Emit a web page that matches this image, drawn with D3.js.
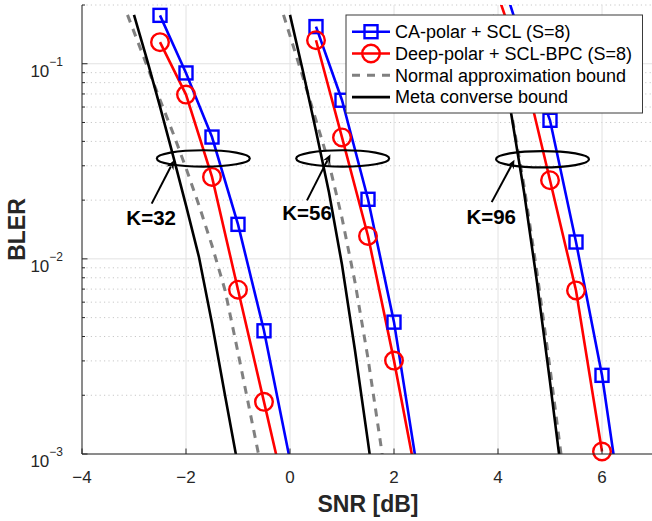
<!DOCTYPE html>
<html>
<head>
<meta charset="utf-8">
<script src="https://cdn.jsdelivr.net/npm/d3@7"></script>
<style>
  body { margin: 0; background: #fff; }
  svg { display: block; font-family: "Liberation Sans", Arial, sans-serif; }
</style>
</head>
<body>
<svg id="chart" width="652" height="521"></svg>
<script>
// ---- data ----
const xTicks = [-4, -2, 0, 2, 4, 6];
const yTicks = [1e-3, 1e-2, 1e-1];

// CA-polar + SCL (S=8), blue squares
const snrBlue32 = [-2.5, -2, -1.5, -1, -0.5, 0];
const blerBlue32 = [0.177, 0.0897, 0.0421, 0.01503, 0.00428, 0.00093];
const snrBlue56 = [0.5, 1, 1.5, 2, 2.5];
const blerBlue56 = [0.155, 0.065, 0.0202, 0.00474, 0.00068];
const snrBlue96 = [4, 4.5, 5, 5.5, 6, 6.5];
const blerBlue96 = [0.316, 0.120, 0.0513, 0.0122, 0.00253, 0.00031];

// Deep-polar + SCL-BPC (S=8), red circles
const snrRed32 = [-2.5, -2, -1.5, -1, -0.5, 0];
const blerRed32 = [0.129, 0.0695, 0.0263, 0.00695, 0.00185, 0.00049];
const snrRed56 = [0.5, 1, 1.5, 2, 2.5];
const blerRed56 = [0.132, 0.0419, 0.0131, 0.00301, 0.00060];
const snrRed96 = [4, 4.5, 5, 5.5, 6];
const blerRed96 = [0.224, 0.0918, 0.0253, 0.00689, 0.00103];

// Normal approximation bound, gray dashed
const snrNa32 = [-3.125, -2.75, -2.5, -2.25, -2, -1.75, -1.5, -1.25, -1, -0.75, -0.5];
const blerNa32 = [0.178, 0.0977, 0.0653, 0.0442, 0.0292, 0.0188, 0.0117, 0.00692, 0.00331, 0.00155, 0.000724];
const snrNa56 = [-0.125, 0.25, 0.5, 0.75, 1, 1.25, 1.5, 1.75, 2];
const blerNa56 = [0.178, 0.0851, 0.0513, 0.0309, 0.0162, 0.00759, 0.00309, 0.0011, 0.000355];
const snrNa96 = [3.9, 4, 4.25, 4.5, 4.75, 5, 5.25];
const blerNa96 = [0.174, 0.129, 0.0575, 0.0237, 0.00851, 0.00275, 0.000832];

// Meta converse bound, black
const snrMc32 = [-3, -2.75, -2.5, -2.25, -2, -1.75, -1.5, -1.25, -1];
const blerMc32 = [0.178, 0.105, 0.0603, 0.0339, 0.0188, 0.0102, 0.00468, 0.002, 0.00087];
const snrMc56 = [0, 0.25, 0.5, 0.75, 1, 1.25, 1.5, 1.75];
const blerMc56 = [0.178, 0.0912, 0.0452, 0.0219, 0.00933, 0.00339, 0.00115, 0.00038];
const snrMc96 = [3.9, 4, 4.25, 4.5, 4.75, 5, 5.25];
const blerMc96 = [0.178, 0.130, 0.0562, 0.0221, 0.00759, 0.00234, 0.00069];

const legendLabels = ["CA-polar + SCL (S=8)", "Deep-polar + SCL-BPC (S=8)",
    "Normal approximation bound", "Meta converse bound"];

// ellipse + arrow callouts, in data units
const callouts = [
    { label: "K=32", cx: -1.667, cy: 0.0327, tx: -2.67, ty: 0.01486, ax: -2.66, ay: 0.0192, bx: -2.23, by: 0.0320 },
    { label: "K=56", cx: 1.013, cy: 0.0327, tx: 0.327, ty: 0.01574, ax: 0.327, ay: 0.01995, bx: 0.779, by: 0.0344 },
    { label: "K=96", cx: 4.856, cy: 0.0324, tx: 3.87, ty: 0.01503, ax: 3.879, ay: 0.01954, bx: 4.317, by: 0.0322 }
];

const zip = (xs, ys) => xs.map((v, i) => ({ snr: v, bler: ys[i] }));

const series = [
    { name: legendLabels[0], color: "#0000ff", width: 2.6, marker: "square", parts: [zip(snrBlue32, blerBlue32), zip(snrBlue56, blerBlue56), zip(snrBlue96, blerBlue96)] },
    { name: legendLabels[1], color: "#ff0000", width: 2.6, marker: "circle", parts: [zip(snrRed32, blerRed32), zip(snrRed56, blerRed56), zip(snrRed96, blerRed96)] },
    { name: legendLabels[2], color: "#808080", width: 3, dash: "8,7", parts: [zip(snrNa32, blerNa32), zip(snrNa56, blerNa56), zip(snrNa96, blerNa96)] },
    { name: legendLabels[3], color: "#000000", width: 2.6, parts: [zip(snrMc32, blerMc32), zip(snrMc56, blerMc56), zip(snrMc96, blerMc96)] }
];

// ---- layout ----
const svg = d3.select("#chart");
const plotLeft = 82, plotRight = 654, plotTop = 5, plotBottom = 454;
const axisColor = "#262626";

const x = d3.scaleLinear().domain([-4, 7]).range([plotLeft, plotRight]);
const y = d3.scaleLog().domain([1e-3, 0.2]).range([plotBottom, plotTop]);

svg.append("defs").append("clipPath").attr("id", "plotClip")
    .append("rect")
    .attr("x", plotLeft).attr("y", plotTop)
    .attr("width", plotRight - plotLeft).attr("height", plotBottom - plotTop);

// minor horizontal grid (dotted)
const minorY = [];
[1e-3, 1e-2, 1e-1].forEach(dec => {
    for (let k = 2; k <= 9; k++) {
        const v = dec * k;
        if (v <= 0.2 + 1e-9) minorY.push(v);
    }
});

const grid = svg.append("g").attr("class", "grid");
grid.selectAll("line.minor")
    .data(minorY)
    .enter().append("line")
    .attr("class", "minor")
    .attr("x1", plotLeft).attr("x2", plotRight)
    .attr("y1", d => y(d)).attr("y2", d => y(d))
    .attr("stroke", "#c8c8c8")
    .attr("stroke-width", 1)
    .attr("stroke-dasharray", "1.2,3.2");

grid.selectAll("line.majorY")
    .data(yTicks)
    .enter().append("line")
    .attr("class", "majorY")
    .attr("x1", plotLeft).attr("x2", plotRight)
    .attr("y1", d => y(d)).attr("y2", d => y(d))
    .attr("stroke", "#e2e2e2")
    .attr("stroke-width", 1);

grid.selectAll("line.majorX")
    .data(xTicks)
    .enter().append("line")
    .attr("class", "majorX")
    .attr("x1", d => x(d)).attr("x2", d => x(d))
    .attr("y1", plotTop).attr("y2", plotBottom)
    .attr("stroke", "#e2e2e2")
    .attr("stroke-width", 1);

// ---- curves ----
const line = d3.line()
    .x(d => x(d.snr))
    .y(d => y(d.bler));

const plot = svg.append("g").attr("clip-path", "url(#plotClip)");

series.forEach(s => {
    plot.selectAll(null)
        .data(s.parts)
        .enter().append("path")
        .attr("d", line)
        .attr("fill", "none")
        .attr("stroke", s.color)
        .attr("stroke-width", s.width)
        .attr("stroke-dasharray", s.dash || null);
});

// markers (only those inside the axis limits, like MATLAB)
const inRange = d => d.bler >= 1e-3 && d.bler <= 0.2 && d.snr >= -4 && d.snr <= 7;

function drawMarker(g, kind, color, cx, cy) {
    if (kind === "square") {
        g.append("rect")
            .attr("x", cx - 6.5).attr("y", cy - 6.5)
            .attr("width", 13).attr("height", 13)
            .attr("fill", "none").attr("stroke", color).attr("stroke-width", 2.4);
    } else if (kind === "circle") {
        g.append("circle")
            .attr("cx", cx).attr("cy", cy).attr("r", 8.8)
            .attr("fill", "none").attr("stroke", color).attr("stroke-width", 2.4);
    }
}

const markers = svg.append("g").attr("class", "markers");
series.filter(s => s.marker).forEach(s => {
    s.parts.forEach(part => {
        part.filter(inRange).forEach(d => drawMarker(markers, s.marker, s.color, x(d.snr), y(d.bler)));
    });
});

// ---- axes ----
const axes = svg.append("g").attr("class", "axes");
axes.append("line")
    .attr("x1", plotLeft).attr("x2", plotLeft).attr("y1", plotTop).attr("y2", plotBottom)
    .attr("stroke", axisColor).attr("stroke-width", 1);
axes.append("line")
    .attr("x1", plotLeft).attr("x2", plotRight).attr("y1", plotBottom).attr("y2", plotBottom)
    .attr("stroke", axisColor).attr("stroke-width", 1);

axes.selectAll("line.ytick")
    .data(yTicks.concat(minorY))
    .enter().append("line")
    .attr("class", "ytick")
    .attr("x1", plotLeft).attr("x2", d => plotLeft + (yTicks.includes(d) ? 5.5 : 3))
    .attr("y1", d => y(d)).attr("y2", d => y(d))
    .attr("stroke", axisColor);

axes.selectAll("line.xtick")
    .data(xTicks)
    .enter().append("line")
    .attr("class", "xtick")
    .attr("x1", d => x(d)).attr("x2", d => x(d))
    .attr("y1", plotBottom).attr("y2", plotBottom - 5.5)
    .attr("stroke", axisColor);

axes.selectAll("text.xlab")
    .data(xTicks)
    .enter().append("text")
    .attr("class", "xlab")
    .attr("x", d => x(d))
    .attr("y", plotBottom + 29)
    .attr("text-anchor", "middle")
    .attr("font-size", 17)
    .attr("fill", axisColor)
    .text(d => d < 0 ? "\u2212" + Math.abs(d) : String(d));

const ylab = axes.selectAll("text.ylab")
    .data(yTicks)
    .enter().append("text")
    .attr("class", "ylab")
    .attr("x", 63)
    .attr("y", d => y(d) + 13)
    .attr("text-anchor", "end")
    .attr("font-size", 17)
    .attr("fill", axisColor);
ylab.append("tspan").text("10");
ylab.append("tspan")
    .attr("dy", -11)
    .attr("font-size", 12)
    .text(d => "\u2212" + Math.round(-Math.log10(d)));

svg.append("text")
    .attr("x", (plotLeft + plotRight) / 2)
    .attr("y", 512)
    .attr("text-anchor", "middle")
    .attr("font-size", 23)
    .attr("font-weight", "bold")
    .attr("fill", "#262626")
    .text("SNR [dB]");

svg.append("text")
    .attr("transform", `translate(25,${(plotTop + plotBottom) / 2}) rotate(-90)`)
    .attr("text-anchor", "middle")
    .attr("font-size", 23)
    .attr("font-weight", "bold")
    .attr("fill", "#262626")
    .text("BLER");

// ---- callouts ----
const notes = svg.append("g").attr("class", "callouts");
callouts.forEach(c => {
    notes.append("ellipse")
        .attr("cx", x(c.cx)).attr("cy", y(c.cy))
        .attr("rx", 46.5).attr("ry", 8.2)
        .attr("fill", "none").attr("stroke", "#000").attr("stroke-width", 2.2);

    const x1 = x(c.ax), y1 = y(c.ay), x2 = x(c.bx), y2 = y(c.by);
    const ang = Math.atan2(y2 - y1, x2 - x1);
    const headLen = 9, headW = 4;
    const bxp = x2 - headLen * Math.cos(ang), byp = y2 - headLen * Math.sin(ang);
    notes.append("line")
        .attr("x1", x1).attr("y1", y1).attr("x2", bxp + 2 * Math.cos(ang)).attr("y2", byp + 2 * Math.sin(ang))
        .attr("stroke", "#000").attr("stroke-width", 2);
    const p1 = [bxp + headW * Math.sin(ang), byp - headW * Math.cos(ang)];
    const p2 = [bxp - headW * Math.sin(ang), byp + headW * Math.cos(ang)];
    const notch = [x2 - (headLen - 3) * Math.cos(ang), y2 - (headLen - 3) * Math.sin(ang)];
    notes.append("path")
        .attr("d", `M${x2},${y2}L${p1[0]},${p1[1]}L${notch[0]},${notch[1]}L${p2[0]},${p2[1]}Z`)
        .attr("fill", "#000");

    notes.append("text")
        .attr("x", x(c.tx)).attr("y", y(c.ty))
        .attr("text-anchor", "middle")
        .attr("font-size", 20.5)
        .attr("font-weight", "bold")
        .attr("fill", "#000")
        .text(c.label);
});

// ---- legend ----
const legend = svg.append("g").attr("class", "legend");
legend.append("rect")
    .attr("x", 346).attr("y", 15)
    .attr("width", 296.5).attr("height", 98)
    .attr("fill", "#fff")
    .attr("stroke", "#3a3a3a")
    .attr("stroke-width", 1);

series.forEach((s, i) => {
    const ry = 31.7 + i * 21.8;
    legend.append("line")
        .attr("x1", 352).attr("x2", 390).attr("y1", ry).attr("y2", ry)
        .attr("stroke", s.color).attr("stroke-width", s.width)
        .attr("stroke-dasharray", s.dash || null);
    if (s.marker) drawMarker(legend, s.marker, s.color, 371, ry);
    legend.append("text")
        .attr("x", 395).attr("y", ry)
        .attr("dy", "0.35em")
        .attr("font-size", 18)
        .attr("fill", "#000")
        .text(s.name);
});
</script>
</body>
</html>
